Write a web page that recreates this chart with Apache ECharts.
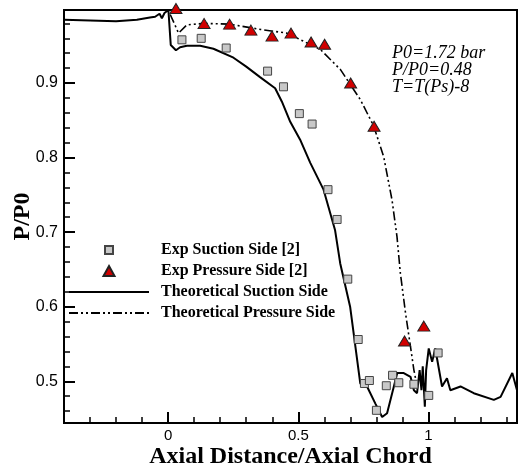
<!DOCTYPE html>
<html><head><meta charset="utf-8">
<script src="https://cdn.jsdelivr.net/npm/echarts@6/dist/echarts.min.js"></script>
<style>html,body{margin:0;padding:0;background:#fff}#c{width:520px;height:468px}</style>
</head><body><div id="c"></div>
<script>
// ---- data ----
const sucLineX = [-0.40,-0.30,-0.20,-0.12,-0.07,-0.05,-0.043,-0.033,-0.024,-0.014,0.001,0.007,0.010,0.030,0.046,0.072,0.123,0.174,0.251,0.300,0.353,0.411,0.437,0.469,0.507,0.546,0.597,0.641,0.661,0.699,0.738,0.764,0.796,0.822,0.841,0.867,0.880,0.905,0.931,0.944,0.956,0.966,0.973,0.978,0.986,0.991,1.001,1.014,1.026,1.052,1.071,1.084,1.123,1.174,1.251,1.277,1.322,1.340];
const sucLineY = [0.985,0.984,0.983,0.985,0.988,0.989,0.989,0.993,0.987,0.994,0.998,0.996,0.951,0.944,0.948,0.950,0.950,0.946,0.934,0.922,0.908,0.893,0.875,0.848,0.824,0.793,0.757,0.703,0.658,0.600,0.497,0.493,0.470,0.452,0.457,0.493,0.511,0.511,0.506,0.488,0.484,0.515,0.488,0.520,0.466,0.515,0.544,0.526,0.544,0.493,0.504,0.488,0.493,0.484,0.475,0.479,0.511,0.488];
const preLineX = [0.008,0.040,0.072,0.138,0.236,0.354,0.456,0.585,0.662,0.738,0.790,0.828,0.860,0.879,0.892,0.912,0.931,0.944,0.954];
const preLineY = [0.992,0.967,0.978,0.980,0.979,0.972,0.967,0.945,0.918,0.878,0.842,0.801,0.743,0.694,0.645,0.591,0.546,0.515,0.497];
const sucExpX = [0.053,0.127,0.223,0.382,0.443,0.504,0.553,0.614,0.649,0.690,0.730,0.754,0.773,0.800,0.838,0.862,0.886,0.944,1.001,1.037];
const sucExpY = [0.958,0.960,0.947,0.916,0.895,0.859,0.845,0.757,0.717,0.637,0.556,0.497,0.501,0.461,0.494,0.508,0.498,0.496,0.481,0.538];
const preExpX = [0.030,0.138,0.236,0.318,0.399,0.472,0.549,0.601,0.701,0.791,0.908,0.982];
const preExpY = [1.000,0.980,0.979,0.971,0.963,0.967,0.955,0.952,0.900,0.842,0.554,0.574];
const xMajor = [0, 0.5, 1];
const xMinor = [-0.3,-0.2,-0.1,0.1,0.2,0.3,0.4,0.6,0.7,0.8,0.9,1.1,1.2,1.3];
const yMajor = [0.5, 0.6, 0.7, 0.8, 0.9];
const yMinor = [0.46,0.48,0.52,0.54,0.56,0.58,0.62,0.64,0.66,0.68,0.72,0.74,0.76,0.78,0.82,0.84,0.86,0.88,0.92,0.94,0.96,0.98];
const names = ['Exp Suction Side [2]','Exp Pressure Side [2]','Theoretical Suction Side','Theoretical Pressure Side'];
const annotation = ['P0=1.72 bar','P/P0=0.48','T=T(Ps)-8'];

const zip = (a, b) => a.map((v, i) => [v, b[i]]);
const serif = 'Liberation Serif', sans = 'Liberation Sans';
const X0 = -0.4, X1 = 1.34, Y0 = 0.444, Y1 = 0.998;

const chart = echarts.init(document.getElementById('c'), null, {renderer: 'canvas'});
const tickStyle = w => ({color: '#000', width: w});
chart.setOption({
  animation: false,
  backgroundColor: '#fff',
  grid: {left: 64, right: 3, top: 10, bottom: 45, show: true, borderColor: '#000', borderWidth: 2,
         backgroundColor: 'transparent', containLabel: false, outerBoundsMode: 'none'},
  xAxis: [
    {type: 'value', min: X0, max: X1, position: 'bottom',
     axisLine: {show: true, onZero: false, lineStyle: tickStyle(2)},
     axisTick: {show: true, inside: true, length: 11, customValues: xMajor, lineStyle: tickStyle(2)},
     axisLabel: {customValues: xMajor, formatter: v => String(v), color: '#000', fontSize: 15, fontFamily: sans, margin: 5},
     splitLine: {show: false},
     name: 'Axial Distance/Axial Chord', nameLocation: 'middle', nameGap: 22, nameMoveOverlap: false,
     nameTextStyle: {color: '#000', fontFamily: serif, fontWeight: 'bold', fontSize: 24}},
    {type: 'value', min: X0, max: X1, position: 'bottom',
     axisLine: {show: false, onZero: false},
     axisTick: {show: true, inside: true, length: 6, customValues: xMinor, lineStyle: tickStyle(1.5)},
     axisLabel: {show: false}, splitLine: {show: false}}
  ],
  yAxis: [
    {type: 'value', min: Y0, max: Y1, position: 'left',
     axisLine: {show: true, onZero: false, lineStyle: tickStyle(2)},
     axisTick: {show: true, inside: true, length: 11, customValues: yMajor, lineStyle: tickStyle(2)},
     axisLabel: {customValues: yMajor, formatter: v => v.toFixed(1), color: '#000', fontSize: 16, fontFamily: sans, margin: 6},
     splitLine: {show: false},
     name: 'P/P0', nameLocation: 'middle', nameGap: 29, nameMoveOverlap: false,
     nameTextStyle: {color: '#000', fontFamily: serif, fontWeight: 'bold', fontSize: 24}},
    {type: 'value', min: Y0, max: Y1, position: 'left',
     axisLine: {show: false, onZero: false},
     axisTick: {show: true, inside: true, length: 6, customValues: yMinor, lineStyle: tickStyle(1.5)},
     axisLabel: {show: false}, splitLine: {show: false}}
  ],
  legend: {
    orient: 'vertical', left: 68, top: 242, padding: 0,
    itemWidth: 80, itemHeight: 14, itemGap: 5,
    textStyle: {color: '#000', fontFamily: serif, fontWeight: 'bold', fontSize: 16, lineHeight: 14, padding: [0, 0, 0, 7]},
    data: [
      {name: names[0], icon: 'path://M0,0M14,14M3,3L11,3L11,11L3,11Z'},
      {name: names[1], icon: 'path://M0,0M14,14M7,2L12.5,12L1.5,12Z'},
      {name: names[2], itemStyle: {opacity: 0}},
      {name: names[3], itemStyle: {opacity: 0}}
    ]
  },
  graphic: [{
    type: 'text', left: 392, top: 44,
    style: {text: annotation.join('\n'), font: 'italic 18px "Liberation Serif"', lineHeight: 17, fill: '#000'}
  }],
  series: [
    {name: names[2], type: 'line', data: zip(sucLineX, sucLineY), symbol: 'none', smooth: false,
     lineStyle: {color: '#000', width: 2}, itemStyle: {color: '#000'}, z: 3},
    {name: names[3], type: 'line', data: zip(preLineX, preLineY), symbol: 'none', smooth: false,
     lineStyle: {color: '#000', width: 1.6, type: [9, 3, 2, 3, 2, 3]}, itemStyle: {color: '#000'}, z: 3},
    {name: names[0], type: 'scatter', data: zip(sucExpX, sucExpY), symbol: 'rect', symbolSize: 8, clip: false,
     itemStyle: {color: '#c8c8c8', borderColor: '#444', borderWidth: 1, opacity: 1}, z: 4},
    {name: names[1], type: 'scatter', data: zip(preExpX, preExpY), symbol: 'triangle', symbolSize: [12, 10], clip: false,
     itemStyle: {color: '#d10000', borderColor: '#222', borderWidth: 1, opacity: 1}, z: 5}
  ]
});
</script></body></html>
